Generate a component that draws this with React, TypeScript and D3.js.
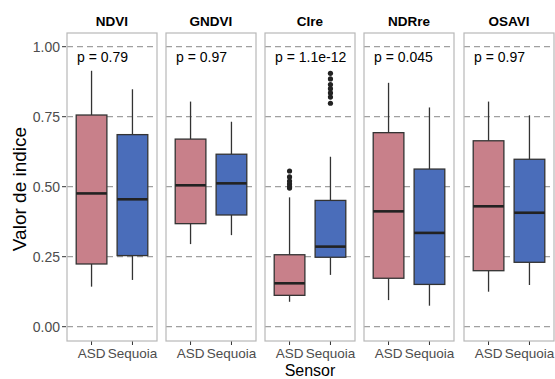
import React from "react";
import * as d3 from "d3";

const indices = ["NDVI", "GNDVI", "CIre", "NDRre", "OSAVI"];
const sensors = ["ASD", "Sequoia"];
const pValues = ["p = 0.79", "p = 0.97", "p = 1.1e-12", "p = 0.045", "p = 0.97"];

// [lowerWhisker, q1, median, q3, upperWhisker] per index, per sensor
const asdStats = [
  [0.143, 0.224, 0.476, 0.756, 0.914],
  [0.295, 0.368, 0.505, 0.670, 0.804],
  [0.089, 0.112, 0.155, 0.257, 0.462],
  [0.095, 0.173, 0.412, 0.693, 0.871],
  [0.125, 0.200, 0.430, 0.664, 0.804],
];
const sequoiaStats = [
  [0.167, 0.254, 0.455, 0.686, 0.848],
  [0.327, 0.399, 0.512, 0.616, 0.732],
  [0.185, 0.248, 0.286, 0.451, 0.607],
  [0.075, 0.151, 0.335, 0.563, 0.783],
  [0.149, 0.230, 0.407, 0.598, 0.755],
];
const asdOutliers = [[], [], [0.556, 0.535, 0.52, 0.51, 0.5, 0.495], [], []];
const sequoiaOutliers = [[], [], [0.905, 0.885, 0.865, 0.85, 0.835, 0.82, 0.798], [], []];

const yTicks = [0, 0.25, 0.5, 0.75, 1.0];
const fills = ["#c8808a", "#4a6dba"];

export default function App() {
  const W = 555, H = 379;
  const panelLefts = [67, 166, 265, 364, 464];
  const panelW = 90;
  const top = 33, bottom = 341;
  const y = d3.scaleLinear().domain([0, 1]).range([326.7, 46.7]);
  const font = "'Liberation Sans', Arial, sans-serif";
  const allStats = [asdStats, sequoiaStats];
  const allOut = [asdOutliers, sequoiaOutliers];

  return (
    <svg width={W} height={H} style={{ position: "absolute", left: 0, top: 0 }} fontFamily={font}>
      <rect width={W} height={H} fill="#fff" />
      {yTicks.map((t) => (
        <g key={t}>
          <line x1={62} x2={66} y1={y(t)} y2={y(t)} stroke="#333" strokeWidth={1} />
          <text x={60} y={y(t)} dy="0.36em" textAnchor="end" fontSize={14} fill="#4d4d4d">
            {d3.format(".2f")(t)}
          </text>
        </g>
      ))}
      <text
        transform={`translate(26,${189}) rotate(-90)`}
        textAnchor="middle"
        fontSize={19}
        fill="#000"
      >
        Valor de indice
      </text>
      <text x={310} y={375.5} textAnchor="middle" fontSize={16} fill="#000">
        Sensor
      </text>
      {indices.map((name, i) => {
        const x0 = panelLefts[i];
        const scale = d3.scaleLinear().domain([0.4, 2.6]).range([x0, x0 + panelW]);
        const bw = scale(0.75) - scale(0);
        return (
          <g key={name}>
            <text x={x0 + panelW / 2} y={26} textAnchor="middle" fontSize={13.5} fontWeight="bold" fill="#000">
              {name}
            </text>
            {yTicks.map((t) => (
              <line key={t} x1={x0} x2={x0 + panelW} y1={y(t)} y2={y(t)} stroke="#a0a0a0" strokeWidth={1.2} strokeDasharray="6,4" />
            ))}
            <text x={x0 + 10} y={62} fontSize={14} fill="#000">
              {pValues[i]}
            </text>
            {sensors.map((s, j) => {
              const cx = scale(j + 1);
              const [lo, q1, med, q3, hi] = allStats[j][i];
              return (
                <g key={s}>
                  <line x1={cx} x2={cx} y1={y(hi)} y2={y(q3)} stroke="#333" strokeWidth={1.3} />
                  <line x1={cx} x2={cx} y1={y(q1)} y2={y(lo)} stroke="#333" strokeWidth={1.3} />
                  <rect x={cx - bw / 2} y={y(q3)} width={bw} height={y(q1) - y(q3)} fill={fills[j]} stroke="#333" strokeWidth={1.3} />
                  <line x1={cx - bw / 2} x2={cx + bw / 2} y1={y(med)} y2={y(med)} stroke="#222" strokeWidth={2.6} />
                  {allOut[j][i].map((v, k) => (
                    <circle key={k} cx={cx} cy={y(v)} r={2.6} fill="#222" />
                  ))}
                  <line x1={cx} x2={cx} y1={bottom} y2={bottom + 4} stroke="#333" strokeWidth={1} />
                  <text x={cx} y={357.5} textAnchor="middle" fontSize={13.5} fill="#4d4d4d">
                    {s}
                  </text>
                </g>
              );
            })}
            <rect x={x0} y={top} width={panelW} height={bottom - top} fill="none" stroke="#b8b8b8" strokeWidth={1.2} />
          </g>
        );
      })}
    </svg>
  );
}
